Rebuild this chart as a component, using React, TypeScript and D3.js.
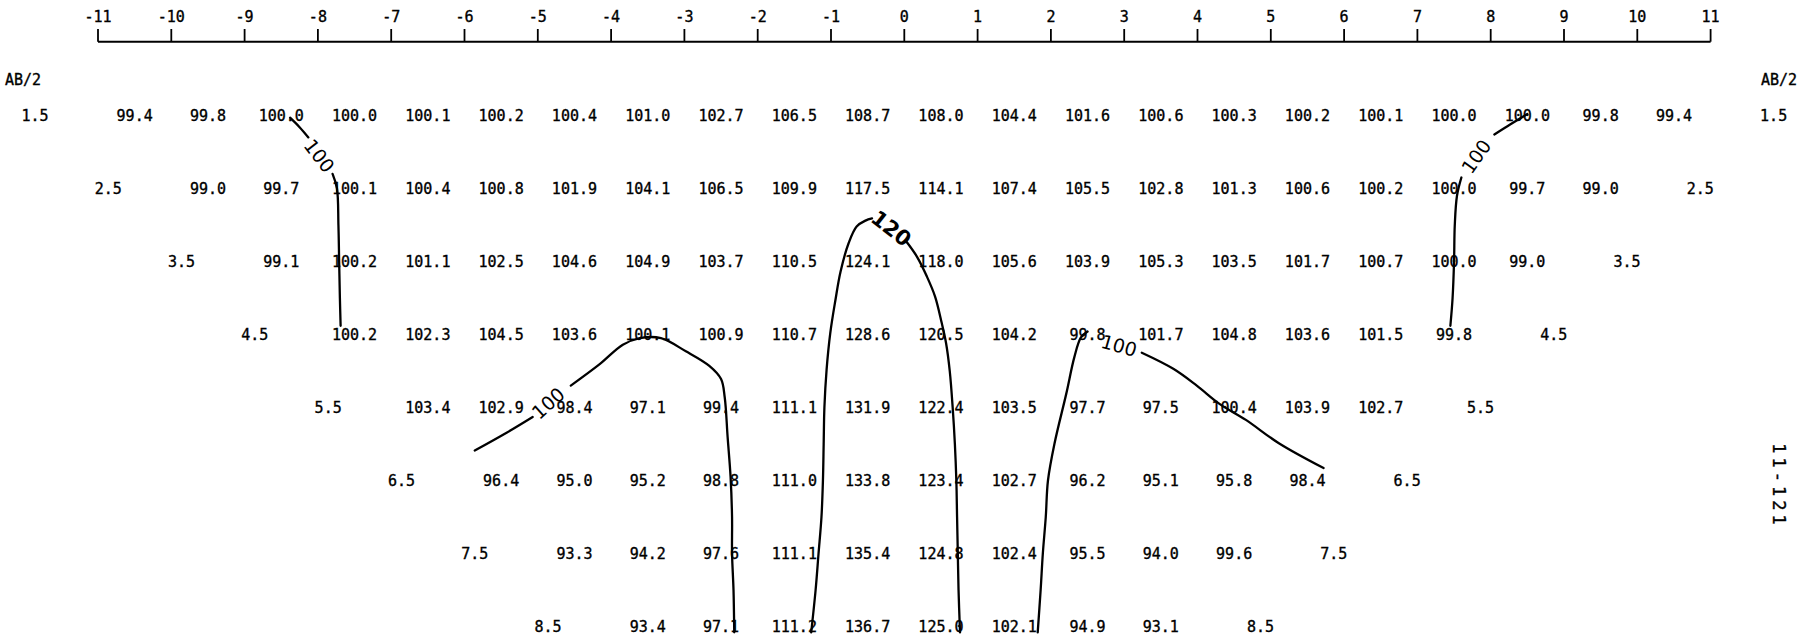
import React from 'react';
import * as d3 from 'd3';

// AB/2 levels (rows) and station ticks
const ab2Levels = [1.5, 2.5, 3.5, 4.5, 5.5, 6.5, 7.5, 8.5];
const axisTicks = d3.range(-11, 12);

// apparent resistivity per row; row k starts at station -10.5 + k
const row1_5 = [99.4, 99.8, 100.0, 100.0, 100.1, 100.2, 100.4, 101.0, 102.7, 106.5, 108.7, 108.0, 104.4, 101.6, 100.6, 100.3, 100.2, 100.1, 100.0, 100.0, 99.8, 99.4];
const row2_5 = [99.0, 99.7, 100.1, 100.4, 100.8, 101.9, 104.1, 106.5, 109.9, 117.5, 114.1, 107.4, 105.5, 102.8, 101.3, 100.6, 100.2, 100.0, 99.7, 99.0];
const row3_5 = [99.1, 100.2, 101.1, 102.5, 104.6, 104.9, 103.7, 110.5, 124.1, 118.0, 105.6, 103.9, 105.3, 103.5, 101.7, 100.7, 100.0, 99.0];
const row4_5 = [100.2, 102.3, 104.5, 103.6, 100.1, 100.9, 110.7, 128.6, 120.5, 104.2, 99.8, 101.7, 104.8, 103.6, 101.5, 99.8];
const row5_5 = [103.4, 102.9, 98.4, 97.1, 99.4, 111.1, 131.9, 122.4, 103.5, 97.7, 97.5, 100.4, 103.9, 102.7];
const row6_5 = [96.4, 95.0, 95.2, 98.8, 111.0, 133.8, 123.4, 102.7, 96.2, 95.1, 95.8, 98.4];
const row7_5 = [93.3, 94.2, 97.6, 111.1, 135.4, 124.8, 102.4, 95.5, 94.0, 99.6];
const row8_5 = [93.4, 97.1, 111.2, 136.7, 125.0, 102.1, 94.9, 93.1];
const rows = [row1_5, row2_5, row3_5, row4_5, row5_5, row6_5, row7_5, row8_5];

// contour polylines in data units [station, AB/2]
const c100TopLeft = [
  [[-8.38, 1.53], [-8.25, 1.66], [-8.13, 1.8]],
  [[-7.8, 2.3], [-7.74, 2.5], [-7.72, 3.0], [-7.71, 3.5], [-7.7, 4.0], [-7.69, 4.38]],
];
const c100TopRight = [
  [[8.5, 1.48], [8.27, 1.62], [8.05, 1.76]],
  [[7.6, 2.35], [7.54, 2.6], [7.51, 3.0], [7.5, 3.5], [7.48, 4.0], [7.45, 4.38]],
];
const c120 = [
  [[-1.27, 8.58], [-1.21, 8.0], [-1.17, 7.5], [-1.13, 7.0], [-1.11, 6.5], [-1.1, 6.0], [-1.09, 5.5], [-1.06, 4.98], [-1.01, 4.48], [-0.94, 4.03], [-0.87, 3.64], [-0.76, 3.25], [-0.65, 3.02], [-0.53, 2.94], [-0.44, 2.91]],
  [[0.03, 3.23], [0.17, 3.43], [0.31, 3.71], [0.42, 3.98], [0.51, 4.34], [0.57, 4.62], [0.62, 5.0], [0.66, 5.5], [0.69, 6.0], [0.71, 6.5], [0.72, 7.0], [0.73, 7.5], [0.74, 8.0], [0.76, 8.58]],
];
const c100MidLeft = [
  [[-5.86, 6.09], [-5.45, 5.86], [-5.07, 5.63]],
  [[-4.55, 5.2], [-4.16, 4.91], [-3.84, 4.64], [-3.61, 4.55], [-3.32, 4.55], [-2.98, 4.73], [-2.66, 4.93], [-2.5, 5.11], [-2.45, 5.36], [-2.41, 5.91], [-2.37, 6.45], [-2.35, 7.0], [-2.35, 7.5], [-2.33, 8.0], [-2.32, 8.58]],
];
const c100MidRight = [
  [[1.82, 8.58], [1.86, 8.0], [1.89, 7.5], [1.93, 7.0], [1.96, 6.5], [2.05, 5.99], [2.21, 5.31], [2.32, 4.81], [2.41, 4.54], [2.5, 4.46]],
  [[3.24, 4.75], [3.67, 4.97], [3.99, 5.2], [4.3, 5.45], [4.66, 5.67], [5.11, 5.99], [5.72, 6.33]],
];
const contours = [c100TopLeft, c100TopRight, c120, c100MidLeft, c100MidRight];

const labelTexts = ['100', '100', '120', '100', '100'];
const labelX = [-7.98, 7.8, -0.18, -4.86, 2.93];
const labelY = [2.05, 2.06, 3.05, 5.44, 4.65];
const labelAngle = [52, -55, 38, -42, 16];
const labelBold = [false, false, true, false, false];

const W = 1815;
const H = 639;
const MONO = '"DejaVu Sans Mono", "Liberation Mono", monospace';
const SANS = '"DejaVu Sans", "Liberation Sans", sans-serif';

export default function App() {
  const x = d3.scaleLinear().domain([-11, 11]).range([98, 1710.6]);
  const y = d3.scaleLinear().domain([1.5, 8.5]).range([115.5, 626.5]);
  const line = d3
    .line<number[]>()
    .x((d) => x(d[0]))
    .y((d) => y(d[1]))
    .curve(d3.curveCatmullRom.alpha(0.5));

  const axisY = 41.7;
  const fs = 15;
  const off = 5.5; // baseline offset from text centre

  return (
    <svg
      width={W}
      height={H}
      style={{ position: 'absolute', left: 0, top: 0, background: '#fff' }}
      fontFamily={MONO}
      fontSize={fs}
    >
      <rect x={0} y={0} width={W} height={H} fill="#fff" />
      <g fill="#000" stroke="#000" strokeWidth={0.35}>
        {/* axis */}
        {axisTicks.map((t) => (
          <text key={'t' + t} x={x(t)} y={16.7 + off} textAnchor="middle">
            {String(t)}
          </text>
        ))}
        {/* AB/2 titles */}
        <text x={23} y={79 + off} textAnchor="middle">AB/2</text>
        <text x={1779} y={79 + off} textAnchor="middle">AB/2</text>

        {/* rows */}
        {rows.map((vals, k) => (
          <g key={'r' + k}>
            <text x={x(-11.86 + k)} y={y(ab2Levels[k]) + off} textAnchor="middle">
              {ab2Levels[k].toFixed(1)}
            </text>
            <text x={x(11.86 - k)} y={y(ab2Levels[k]) + off} textAnchor="middle">
              {ab2Levels[k].toFixed(1)}
            </text>
            {vals.map((v, i) => (
              <text key={i} x={x(-10.5 + k + i)} y={y(ab2Levels[k]) + off} textAnchor="middle">
                {v.toFixed(1)}
              </text>
            ))}
          </g>
        ))}

        {/* sheet id */}
        <text
          x={0}
          y={0}
          transform="translate(1779,486) rotate(90)"
          textAnchor="middle"
          dominantBaseline="central"
          fontSize={17}
          letterSpacing={4}
        >
          11-121
        </text>
      </g>

      <line x1={x(-11)} x2={x(11)} y1={axisY} y2={axisY} stroke="#000" strokeWidth={2} />
      {axisTicks.map((t) => (
        <line key={'k' + t} x1={x(t)} x2={x(t)} y1={axisY} y2={29} stroke="#000" strokeWidth={1.8} />
      ))}

      {/* contours */}
      {contours.map((segs, ci) =>
        segs.map((seg, si) => (
          <path
            key={'c' + ci + '-' + si}
            d={line(seg) || ''}
            fill="none"
            stroke="#000"
            strokeWidth={2.3}
            strokeLinecap="round"
            strokeLinejoin="round"
          />
        ))
      )}
      {labelTexts.map((t, i) => (
        <text
          key={'l' + i}
          x={0}
          y={0}
          transform={`translate(${x(labelX[i])},${y(labelY[i])}) rotate(${labelAngle[i]})`}
          textAnchor="middle"
          dominantBaseline="central"
          fontFamily={SANS}
          fontSize={labelBold[i] ? 21 : 19}
          fontWeight={labelBold[i] ? 'bold' : 'normal'}
        >
          {t}
        </text>
      ))}
    </svg>
  );
}
